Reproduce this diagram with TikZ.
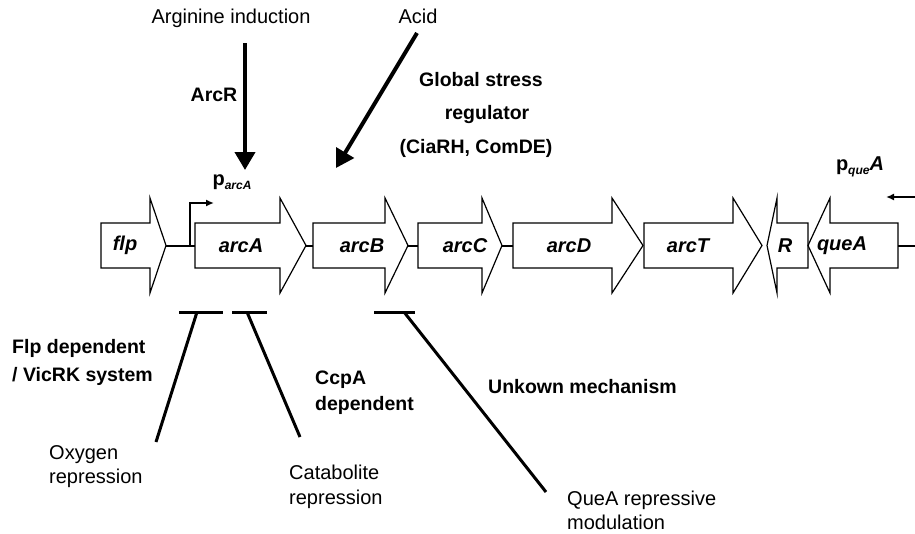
\documentclass[tikz,border=0pt]{standalone}
\usepackage{fontspec}
\setmainfont{Liberation Sans}
\usetikzlibrary{arrows.meta}
\tikzstyle{gene} = [draw, line width=1.2pt, fill=white, line join=miter]
\tikzstyle{genename} = [font=\fontsize{20}{24}\selectfont\bfseries\itshape, inner sep=0pt]
\tikzstyle{backbone} = [draw, line width=2pt]
\tikzstyle{induce} = [draw, line width=4pt, -{Triangle[length=18pt,width=20pt]}]
\tikzstyle{repress} = [draw, line width=3pt]
\tikzstyle{promoter} = [draw, line width=1.6pt, -{Latex[length=8pt,width=7pt]}]
\tikzstyle{plain} = [font=\fontsize{20}{24}\selectfont, inner sep=0pt, align=left]
\tikzstyle{bold} = [font=\fontsize{19.5}{28}\selectfont\bfseries, inner sep=0pt, align=left]

\begin{document}
\begin{tikzpicture}[x=1pt, y=-1pt]
  \useasboundingbox (0,0) rectangle (915,533);

  % genes: name / tail / head base / tip / label x
  \foreach \g/\tl/\hb/\tp/\lx in {flp/101/150/166/125, arcA/195/280/306/241,
      arcB/313/385/408/362, arcC/418/482/502/465, arcD/513/612/643/569,
      arcT/644/733/762/688, R/808/777/767/785, queA/898/830/808/842}{
    \draw[gene] (\tl,223) -- (\hb,223) -- (\hb,198) -- (\tp,245.5)
      -- (\hb,293) -- (\hb,268) -- (\tl,268) -- cycle;
    \coordinate (\g-tail) at (\tl,245.5);
    \coordinate (\g-tip) at (\tp,245.5);
    \node[genename] (\g) at (\lx,245.5) {\g};
  }

  % backbone
  \coordinate (rightend) at (915,245.5);
  \path[backbone] (flp-tip) -- (arcA-tail);
  \path[backbone] (arcA-tip) -- (arcB-tail);
  \path[backbone] (arcB-tip) -- (arcC-tail);
  \path[backbone] (arcC-tip) -- (arcD-tail);
  \path[backbone] (queA-tail) -- (rightend);

  % promoters
  \coordinate (parc) at (190,245.5);
  \coordinate (parcend) at (214,203);
  \path[promoter] (parc) |- (parcend);
  \node[inner sep=0pt] (parcA) at (232,182)
    {\fontsize{20}{24}\selectfont\bfseries p\raisebox{-4pt}{\fontsize{12}{12}\selectfont\itshape arcA}};
  \coordinate (pquestart) at (915,197);
  \coordinate (pqueend) at (886,197);
  \path[promoter] (pquestart) -- (pqueend);
  \node[inner sep=0pt] (pqueA) at (860,167)
    {\fontsize{20}{24}\selectfont\bfseries p\raisebox{-4pt}{\fontsize{12}{12}\selectfont\itshape que}\itshape A};

  % inducing signals
  \node[plain] (argin) at (231,18) {Arginine induction};
  \node[plain] (acid) at (418,16) {Acid};
  \coordinate (arcRtop) at (245,43);
  \coordinate (arcRtip) at (245,170);
  \path[induce] (arcRtop) -- (arcRtip);
  \coordinate (acidtop) at (417,33);
  \coordinate (acidtip) at (336,168);
  \path[induce] (acidtop) -- (acidtip);
  \node[bold] (arcR) at (214,95) {ArcR};
  \node[bold] (glob1) at (481,80) {Global stress};
  \node[bold] (glob2) at (487,114) {regulator};
  \node[bold] (glob3) at (476,148) {(CiaRH, ComDE)};

  % repression
  \foreach \n/\bl/\br/\ft/\ex/\ey in {ox/179/223/197/156/442,
      cat/232/267/247/300/437, que/374/415/404/546/492}{
    \coordinate (\n-barL) at (\bl,312);
    \coordinate (\n-barR) at (\br,312);
    \coordinate (\n-foot) at (\ft,312);
    \coordinate (\n-end) at (\ex,\ey);
    \path[repress] (\n-barL) -- (\n-barR);
    \path[repress] (\n-foot) -- (\n-end);
  }
  \node[bold, anchor=west] (flpdep) at (12,362) {Flp dependent\\/ VicRK system};
  \node[bold, anchor=west, font=\fontsize{19.5}{26}\selectfont\bfseries] (ccpa) at (315,393) {CcpA\\dependent};
  \node[bold, anchor=west] (unknown) at (488,387) {Unkown mechanism};
  \node[plain, anchor=west] (oxy) at (49,467) {Oxygen\\repression};
  \node[plain, anchor=west, font=\fontsize{20}{25}\selectfont] (catab) at (289,487) {Catabolite\\repression};
  \node[plain, anchor=west] (quemod) at (567,510) {QueA repressive\\modulation};
\end{tikzpicture}
\end{document}
